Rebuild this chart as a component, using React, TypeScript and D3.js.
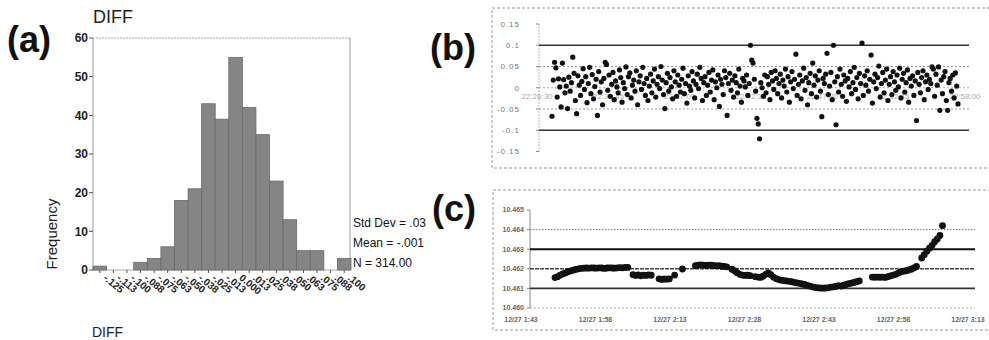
import React, { useEffect, useRef } from 'react';
import * as d3 from 'd3';

// (a) histogram of DIFF
const binLabels = ['-.125', '-.113', '-.100', '-.088', '-.075', '-.063', '-.050', '-.038', '-.025', '-.013',
  '0.000', '.013', '.025', '.038', '.050', '.063', '.075', '.088', '.100'];
const binCounts = [1, 0, 0, 2, 3, 6, 18, 21, 43, 39, 55, 42, 35, 23, 13, 5, 5, 0, 3];
const freqTicks = [0, 10, 20, 30, 40, 50, 60];
const statLines = ['Std  Dev = .03', 'Mean = -.001', 'N = 314.00'];

// (b) DIFF per sample
const diffValues = [
  -0.067, 0.018, 0.060, 0.047, -0.022, 0.021, 0.002, -0.045, 0.058, 0.019, -0.012, 0.004, -0.049, 0.025, -0.008, 0.012, 0.072, 0.034, -0.030, -0.061,
  0.028, 0.006, -0.018, 0.015, 0.045, -0.004, 0.026, -0.035, 0.010, 0.048, -0.014, 0.031, -0.026, 0.003, 0.020, -0.065, 0.038, -0.010, 0.014, -0.040,
  0.022, 0.060, 0.055, -0.006, 0.030, -0.020, 0.008, 0.036, -0.028, 0.016, 0.002, -0.012, 0.042, 0.024, -0.034, 0.012, -0.002, 0.049, -0.016, 0.026,
  0.035, -0.024, 0.006, 0.018, -0.008, 0.040, -0.040, 0.014, 0.028, -0.004, 0.048, 0.010, -0.018, 0.022, -0.030, 0.004, 0.032, -0.012, 0.016, 0.044,
  -0.022, 0.008, 0.026, -0.002, 0.050, 0.018, -0.016, -0.049, 0.012, 0.034, -0.008, 0.024, 0.002, -0.026, 0.040, 0.014, -0.020, 0.030, 0.006, -0.010,
  0.020, 0.046, -0.014, 0.010, -0.036, 0.028, 0.004, -0.006, 0.038, 0.016, -0.024, 0.008, 0.032, -0.002, 0.048, 0.022, -0.030, 0.012, 0.026, -0.018,
  0.006, 0.036, -0.010, 0.018, 0.042, -0.028, 0.014, 0.000, 0.030, -0.044, 0.020, 0.008, -0.016, 0.040, 0.024, -0.065, 0.010, 0.034, -0.006, 0.018,
  -0.022, 0.028, 0.012, -0.012, 0.044, 0.004, -0.034, 0.022, 0.016, 0.002, 0.030, -0.018, 0.010, 0.100, 0.065, 0.058, 0.020, -0.008, -0.072, -0.085,
  -0.120, 0.012, 0.000, -0.020, 0.030, -0.012, 0.026, 0.008, -0.028, 0.036, 0.016, -0.004, 0.040, 0.022, -0.014, 0.010, 0.032, -0.024, 0.018, 0.004,
  0.044, -0.010, 0.026, -0.034, 0.014, 0.038, -0.002, 0.020, 0.079, -0.018, 0.008, 0.030, -0.026, 0.016, 0.046, -0.006, 0.024, -0.040, 0.012, 0.034,
  -0.014, 0.058, 0.006, 0.028, -0.022, 0.018, 0.040, -0.008, -0.068, 0.022, 0.010, 0.032, 0.081, -0.016, 0.004, 0.036, -0.028, 0.100, 0.014, -0.087,
  0.026, -0.010, 0.044, 0.008, -0.020, 0.030, 0.016, -0.032, 0.022, 0.002, 0.038, -0.014, 0.012, 0.048, -0.004, 0.024, -0.026, 0.034, 0.010, 0.105,
  -0.018, 0.028, 0.006, 0.040, -0.008, 0.020, 0.077, -0.036, 0.014, 0.032, -0.002, 0.024, 0.051, -0.022, 0.010, 0.036, -0.012, 0.018, 0.044, -0.030,
  0.008, 0.026, -0.016, 0.038, 0.014, -0.006, 0.030, 0.002, 0.046, -0.024, 0.020, 0.034, -0.010, 0.012, 0.042, -0.034, 0.022, 0.004, 0.028, -0.018,
  0.016, -0.077, 0.036, 0.008, -0.012, 0.024, 0.040, -0.028, 0.014, 0.030, -0.004, 0.020, 0.010, 0.049, 0.044, -0.020, 0.032, 0.006, 0.049, -0.053,
  0.018, -0.014, 0.026, 0.038, -0.030, -0.053, 0.012, 0.022, -0.008, 0.030, -0.024, 0.035, 0.004, -0.038,
];
const diffTicks = [-0.15, -0.1, -0.05, 0, 0.05, 0.1, 0.15];
const diffTickLabels = ['-0.15', '-0.1', '-0.05', '0', '0.05', '0.1', '0.15'];
const diffXLabels = ['22:26:30', '22:31:45', '22:37:00', '22:42:15', '22:47:30', '22:52:45', '22:58:00'];

// (c) reference value per sample (null = gap)
const refValues = [
  10.46155, 10.46160, 10.46168, 10.46174, 10.46179, 10.46185, 10.46189, 10.46193, 10.46197, 10.46200,
  10.46202, 10.46203, 10.46204, 10.46203, 10.46205, 10.46204, 10.46203, 10.46205, 10.46204, 10.46202,
  10.46204, 10.46205, 10.46204, 10.46203, 10.46205, 10.46206, 10.46205, 10.46207, 10.46207, null,
  10.46170, 10.46166, 10.46169, 10.46164, 10.46168, 10.46166, 10.46169, 10.46167, null, null,
  10.46149, 10.46146, 10.46148, 10.46147, 10.46149, null, 10.46168, null, null, 10.46199,
  null, null, null, null, 10.46216, 10.46218, 10.46220, 10.46219, 10.46217, 10.46219,
  10.46218, 10.46217, 10.46215, 10.46216, 10.46213, 10.46212, 10.46210, null, 10.46198, 10.46190,
  10.46180, 10.46172, 10.46168, 10.46166, 10.46167, 10.46165, null, 10.46160, 10.46158, 10.46156,
  10.46162, 10.46172, 10.46179, 10.46170, 10.46158, 10.46150, 10.46145, 10.46142, 10.46140, 10.46138,
  10.46136, 10.46134, 10.46131, 10.46128, 10.46126, 10.46123, 10.46120, 10.46115, 10.46112, 10.46108,
  10.46105, 10.46103, 10.46102, 10.46101, 10.46102, 10.46103, 10.46106, 10.46108, 10.46110, 10.46114,
  10.46112, 10.46116, 10.46120, 10.46124, 10.46127, 10.46130, 10.46134, 10.46138, null, null,
  null, null, 10.46158, 10.46157, 10.46158, 10.46157, 10.46158, 10.46156, 10.46160, 10.46164,
  10.46168, 10.46172, 10.46178, 10.46184, 10.46188, 10.46190, 10.46194, 10.46198, 10.46204, 10.46212,
  null, 10.46255, 10.46272, 10.46290, 10.46305, 10.46320, 10.46338, 10.46352, 10.46370, 10.46420,
];
const refTicks = [10.460, 10.461, 10.462, 10.463, 10.464, 10.465];
const refXLabels = ['12/27 1:43', '12/27 1:58', '12/27 2:13', '12/27 2:28', '12/27 2:43', '12/27 2:58', '12/27 3:13'];

const FONT = 'Liberation Sans, Arial, sans-serif';

export default function App() {
  const svgRef = useRef<SVGSVGElement>(null);

  useEffect(() => {
    const svg = d3.select(svgRef.current);
    svg.selectAll('*').remove();
    svg.append('rect').attr('width', 989).attr('height', 340).attr('fill', '#fff');

    // ---------- (a) histogram ----------
    const xA = d3.scaleBand().domain(binLabels).range([93, 351]).padding(0);
    const yA = d3.scaleLinear().domain([0, 60]).range([270, 38]);
    const a = svg.append('g');

    a.append('text').attr('x', 7).attr('y', 52).attr('font-size', 36).attr('font-weight', 700)
      .attr('font-family', FONT).attr('fill', '#111').text('(a)');
    a.append('text').attr('x', 93).attr('y', 23).attr('font-size', 18)
      .attr('font-family', FONT).attr('fill', '#222').text('DIFF');

    // frame
    a.append('line').attr('x1', 93).attr('x2', 350).attr('y1', 38).attr('y2', 38)
      .attr('stroke', '#aaa').attr('stroke-dasharray', '2 1');
    a.append('line').attr('x1', 350).attr('x2', 350).attr('y1', 38).attr('y2', 270)
      .attr('stroke', '#999');
    a.append('line').attr('x1', 93).attr('x2', 93).attr('y1', 38).attr('y2', 270)
      .attr('stroke', '#999');
    a.append('line').attr('x1', 93).attr('x2', 350).attr('y1', 270).attr('y2', 270)
      .attr('stroke', '#aaa');

    // bars
    a.selectAll('rect.bar').data(binCounts).join('rect').attr('class', 'bar')
      .attr('x', (d, i) => xA(binLabels[i])!)
      .attr('width', xA.bandwidth())
      .attr('y', d => yA(d))
      .attr('height', d => yA(0) - yA(d))
      .attr('fill', '#858585').attr('stroke', '#6a6a6a').attr('stroke-width', 0.8);

    // y ticks
    const yTickG = a.selectAll('g.yt').data(freqTicks).join('g').attr('class', 'yt')
      .attr('transform', d => `translate(0,${yA(d)})`);
    yTickG.append('line').attr('x1', 89).attr('x2', 93).attr('stroke', '#555');
    yTickG.append('text').attr('x', 88).attr('dy', '0.36em').attr('text-anchor', 'end')
      .attr('font-size', 12).attr('font-weight', 700).attr('font-family', FONT).attr('fill', '#222')
      .text(d => d);

    // x ticks + rotated labels
    const xTickG = a.selectAll('g.xt').data(binLabels).join('g').attr('class', 'xt')
      .attr('transform', d => `translate(${xA(d)! + xA.bandwidth() / 2},270)`);
    xTickG.append('line').attr('y1', 0).attr('y2', 3).attr('stroke', '#555');
    xTickG.append('text').attr('transform', 'translate(3,9) rotate(40)')
      .attr('font-size', 10).attr('font-weight', 700).attr('font-family', FONT).attr('fill', '#222')
      .text(d => d);

    a.append('text').attr('transform', 'translate(57,234) rotate(-90)').attr('text-anchor', 'middle')
      .attr('font-size', 15).attr('font-family', FONT).attr('fill', '#222').text('Frequency');
    a.append('text').attr('x', 92).attr('y', 337).attr('font-size', 14)
      .attr('font-family', FONT).attr('fill', '#222').text('DIFF');

    a.selectAll('text.stat').data(statLines).join('text').attr('class', 'stat')
      .attr('x', 353).attr('y', (d, i) => 227 + i * 20)
      .attr('font-size', 12).attr('font-family', FONT).attr('fill', '#111').text(d => d);

    // ---------- (b) DIFF scatter ----------
    const xB = d3.scaleLinear().domain([0, diffValues.length - 1]).range([552, 958]);
    const yB = d3.scaleLinear().domain([-0.15, 0.15]).range([151.5, 24]);
    const b = svg.append('g');

    b.append('text').attr('x', 430).attr('y', 60).attr('font-size', 36).attr('font-weight', 700)
      .attr('font-family', FONT).attr('fill', '#111').text('(b)');
    b.append('rect').attr('x', 492).attr('y', 8).attr('width', 520).attr('height', 160)
      .attr('fill', 'none').attr('stroke', '#999').attr('stroke-dasharray', '3 2');

    b.append('line').attr('x1', 539).attr('x2', 539).attr('y1', yB(0.15)).attr('y2', yB(-0.15))
      .attr('stroke', '#bbb').attr('stroke-dasharray', '2 1');
    diffTicks.forEach(t => {
      const y = yB(t);
      if (Math.abs(t) === 0.1) {
        b.append('line').attr('x1', 539).attr('x2', 969).attr('y1', y).attr('y2', y)
          .attr('stroke', '#333').attr('stroke-width', 1.6);
      } else if (Math.abs(t) === 0.05 || t === 0) {
        b.append('line').attr('x1', 539).attr('x2', 969).attr('y1', y).attr('y2', y)
          .attr('stroke', t === 0 ? '#aaa' : '#999').attr('stroke-dasharray', '2 2');
      }
      b.append('line').attr('x1', 536).attr('x2', 539).attr('y1', y).attr('y2', y).attr('stroke', '#888');
    });
    b.selectAll('text.ybl').data(diffTicks).join('text').attr('class', 'ybl')
      .attr('x', 520).attr('y', d => yB(d)).attr('dy', '0.35em').attr('text-anchor', 'end')
      .attr('font-size', 8).attr('letter-spacing', 1).attr('font-family', FONT).attr('fill', '#777')
      .text((d, i) => diffTickLabels[i]);

    const xBLab = d3.scalePoint().domain(diffXLabels).range([537, 965]);
    b.selectAll('text.xbl').data(diffXLabels).join('text').attr('class', 'xbl')
      .attr('x', d => xBLab(d)!).attr('y', yB(0) + 11).attr('text-anchor', 'middle')
      .attr('font-size', 8).attr('font-family', FONT).attr('fill', '#aaa').text(d => d);

    b.selectAll('circle').data(diffValues).join('circle')
      .attr('cx', (d, i) => xB(i)).attr('cy', d => yB(d)).attr('r', 2.6).attr('fill', '#111');

    // ---------- (c) reference series ----------
    const xC = d3.scaleLinear().domain([0, refValues.length - 1]).range([555, 942.5]);
    const yC = d3.scaleLinear().domain([10.460, 10.465]).range([308, 210]);
    const c = svg.append('g');

    c.append('text').attr('x', 432).attr('y', 221).attr('font-size', 36).attr('font-weight', 700)
      .attr('font-family', FONT).attr('fill', '#111').text('(c)');
    c.append('rect').attr('x', 493).attr('y', 190).attr('width', 520).attr('height', 140)
      .attr('fill', 'none').attr('stroke', '#999').attr('stroke-dasharray', '3 2');

    c.append('line').attr('x1', 530).attr('x2', 530).attr('y1', yC(10.465)).attr('y2', yC(10.460))
      .attr('stroke', '#888');
    const cStyles: Record<number, [string, number, string]> = {
      0: ['#aaa', 1, '2 2'],
      1: ['#333', 1.6, ''],
      2: ['#444', 1.6, '4 1'],
      3: ['#111', 2, ''],
      4: ['#777', 1, '1.5 1.5'],
    };
    refTicks.forEach((t, i) => {
      const y = yC(t);
      const s = cStyles[i];
      if (s) {
        c.append('line').attr('x1', 530).attr('x2', 975).attr('y1', y).attr('y2', y)
          .attr('stroke', s[0]).attr('stroke-width', s[1]).attr('stroke-dasharray', s[2] || null);
      }
      c.append('line').attr('x1', 527).attr('x2', 530).attr('y1', y).attr('y2', y).attr('stroke', '#888');
    });
    c.selectAll('text.ycl').data(refTicks).join('text').attr('class', 'ycl')
      .attr('x', 524).attr('y', d => yC(d)).attr('dy', '0.35em').attr('text-anchor', 'end')
      .attr('font-size', 7).attr('font-weight', 700).attr('font-family', FONT).attr('fill', '#666')
      .text(d => d3.format('.3f')(d));

    const xCLab = d3.scalePoint().domain(refXLabels).range([521, 968]);
    c.selectAll('text.xcl').data(refXLabels).join('text').attr('class', 'xcl')
      .attr('x', d => xCLab(d)!).attr('y', 322).attr('text-anchor', 'middle')
      .attr('font-size', 7).attr('font-weight', 700).attr('font-family', FONT).attr('fill', '#666')
      .text(d => d);

    const pts = refValues.map((v, i) => ({ i, v })).filter(d => d.v !== null) as { i: number; v: number }[];
    c.selectAll('circle').data(pts).join('circle')
      .attr('cx', d => xC(d.i)).attr('cy', d => yC(d.v)).attr('r', 3.4).attr('fill', '#111');
  }, []);

  return (
    <div style={{ position: 'fixed', left: 0, top: 0, width: 989, height: 340, background: '#fff' }}>
      <svg ref={svgRef} width={989} height={340} style={{ display: 'block' }} />
    </div>
  );
}
